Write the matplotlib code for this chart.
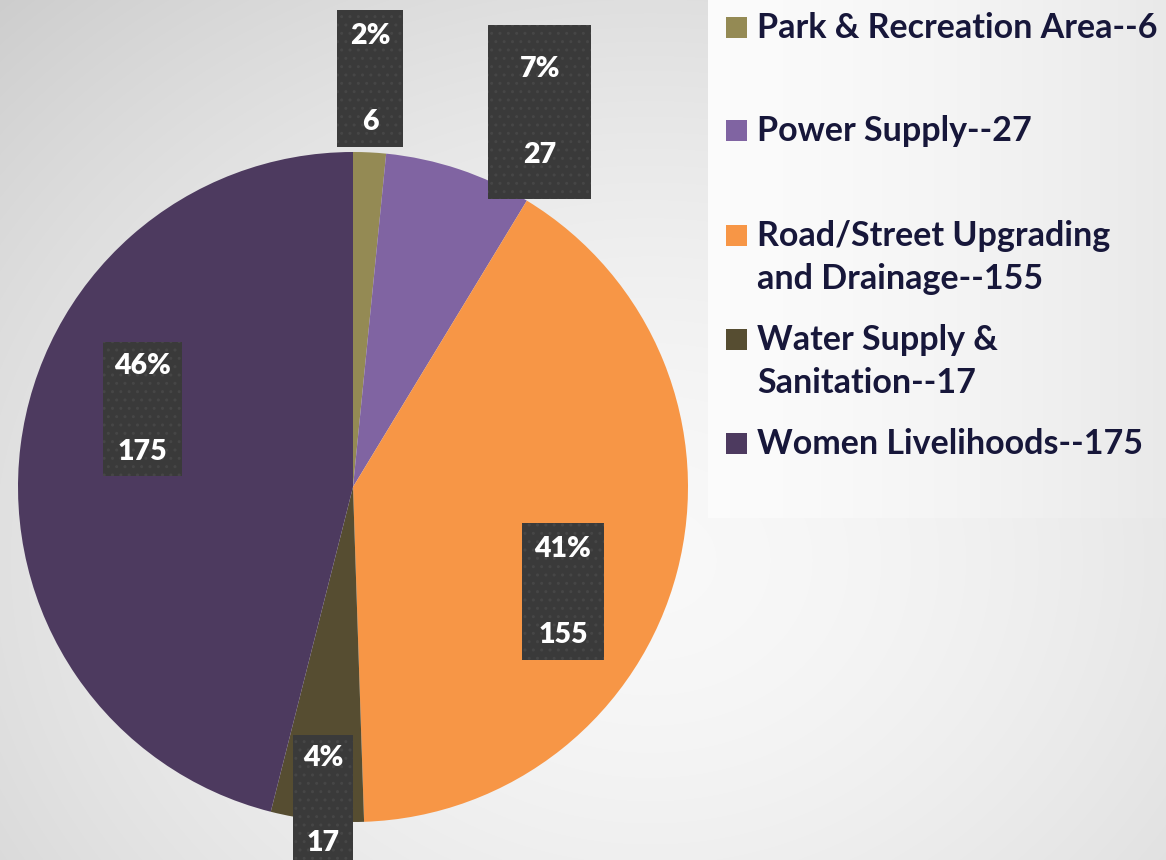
import numpy as np
import matplotlib.pyplot as plt
from matplotlib.patches import Rectangle

# data
categories = ["Park & Recreation Area", "Power Supply",
              "Road/Street Upgrading\nand Drainage",
              "Water Supply &\nSanitation", "Women Livelihoods"]
values = [6, 27, 155, 17, 175]
colors = ["#948A54", "#8064A2", "#F79646", "#564D31", "#4D3A5F"]

# label placement (radius as fraction of pie, angle shift in degrees)
label_r = [1.22, 1.25, 0.70, 0.94, 0.67]
label_shift = [0.4, -8.0, -11.8, 0.7, -13.2]
label_pad = [0.45, 1.1, 0.45, 0.35, 0.4]

# legend rows (pixel y of first line, from top)
legend_y = [28, 131, 236, 340, 444]

plt.rcParams['font.family'] = ['Lato', 'DejaVu Sans']

W, H = 1166, 860
fig = plt.figure(figsize=(W / 100, H / 100), dpi=100)

# background gradient
bg = fig.add_axes([0, 0, 1, 1])
yy, xx = np.mgrid[0:H, 0:W]
d = np.sqrt(((xx - 650) / 900.0) ** 2 + ((yy - 560) / 750.0) ** 2)
shade = np.clip(0.975 - 0.16 * d ** 1.6, 0, 1)
bg.imshow(np.dstack([shade] * 3), extent=[0, W, H, 0], aspect='auto')
# legend panel
lx = np.linspace(0, 1, 200)
panel = np.clip(0.985 - 0.07 * lx ** 1.5, 0, 1)
panel = np.tile(panel, (50, 1))
bg.imshow(np.dstack([panel] * 3), extent=[708, W, 518, 0], aspect='auto')
bg.set_xlim(0, W)
bg.set_ylim(H, 0)
bg.axis('off')

# pie
cx, cy, r = 353, 487, 335
ax = fig.add_axes([(cx - r) / W, (H - cy - r) / H, 2 * r / W, 2 * r / H])
wedges, _ = ax.pie(values, colors=colors, startangle=90, counterclock=False,
                   radius=1, wedgeprops=dict(linewidth=0))
ax.set_xlim(-1, 1)
ax.set_ylim(-1, 1)
ax.set_aspect('equal')
ax.axis('off')

total = sum(values)
for i, (w, v) in enumerate(zip(wedges, values)):
    mid = np.deg2rad((w.theta1 + w.theta2) / 2 + label_shift[i])
    x, y = label_r[i] * np.cos(mid), label_r[i] * np.sin(mid)
    pct = round(100 * v / total)
    ax.text(x, y, f"{pct}%\n{v}", ha='center', va='center', color='white',
            fontsize=20.5, fontweight='heavy', linespacing=3.85, zorder=5,
            bbox=dict(boxstyle=f'square,pad={label_pad[i]}', facecolor='#3A3A3A',
                      edgecolor='#464646', linewidth=0, hatch='..'))

# legend
for lab, v, c, y in zip(categories, values, colors, legend_y):
    fig.patches.append(Rectangle((726 / W, 1 - (y + 10) / H), 21 / W, 21 / H,
                                 transform=fig.transFigure, facecolor=c,
                                 edgecolor='none'))
    fig.text(757 / W, 1 - (y - 16) / H, f"{lab}--{v}", ha='left', va='top',
             fontsize=24.5, fontweight='bold', color='#17173A', linespacing=1.42)

fig.savefig("out.png", dpi=100)
